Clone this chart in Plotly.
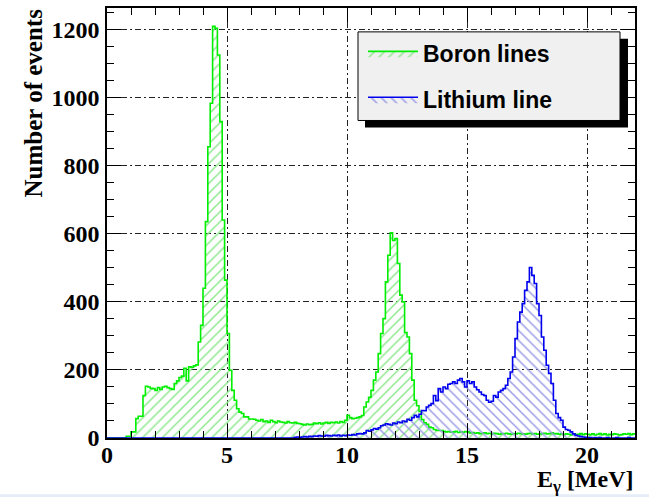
import numpy as np
import plotly.graph_objects as go

# ---- data: 0.1 MeV bins from 0 to 22 MeV ----
bin_width = 0.1
e_min, e_max = 0.0, 22.0

boron_counts = [
    0, 0, 0, 0, 0, 0, 0, 0, 5, 5,
    18, 18, 57, 64, 64, 125, 152, 150, 146, 145,
    140, 148, 143, 150, 152, 148, 145, 143, 160, 168,
    178, 182, 205, 168, 209, 208, 212, 215, 282, 331,
    440, 636, 856, 984, 1210, 1204, 1126, 930, 641, 464,
    307, 199, 140, 111, 86, 76, 72, 62, 62, 56,
    56, 55, 52, 50, 54, 48, 50, 46, 52, 48,
    45, 50, 47, 46, 44, 48, 45, 44, 46, 43,
    42, 40, 38, 41, 39, 40, 44, 42, 45, 41,
    44, 46, 43, 46, 45, 47, 44, 48, 46, 52,
    67, 60, 57, 58, 60, 62, 66, 91, 106, 120,
    140, 170, 194, 248, 307, 351, 459, 537, 603, 581,
    586, 513, 420, 400, 310, 297, 248, 170, 111, 95,
    78, 54, 45, 40, 32, 30, 25, 23, 22, 22,
    20, 18, 19, 17, 18, 20, 16, 18, 17, 19,
    18, 15, 16, 14, 15, 13, 14, 15, 13, 14,
    12, 14, 13, 11, 13, 12, 14, 12, 11, 13,
    12, 14, 13, 12, 11, 13, 14, 12, 13, 11,
    12, 13, 14, 12, 13, 15, 12, 13, 11, 12,
    10, 12, 11, 9, 12, 10, 11, 13, 10, 12,
    11, 10, 12, 9, 11, 13, 10, 12, 9, 11,
    10, 12, 11, 9, 10, 12, 11, 13, 10, 12,
]

lithium_counts = [
    0, 0, 0, 0, 0, 0, 0, 0, 0, 0,
    0, 0, 0, 0, 0, 0, 0, 0, 0, 0,
    0, 0, 0, 0, 0, 0, 0, 0, 0, 0,
    0, 0, 0, 0, 0, 0, 0, 0, 0, 0,
    0, 0, 0, 0, 0, 0, 0, 0, 0, 0,
    0, 0, 0, 0, 0, 0, 0, 0, 0, 0,
    0, 0, 0, 0, 0, 0, 0, 0, 0, 0,
    0, 0, 0, 0, 0, 0, 0, 0, 2, 3,
    2, 3, 4, 3, 5, 4, 6, 5, 7, 6,
    5, 8, 7, 6, 8, 7, 9, 6, 8, 7,
    9, 8, 10, 9, 12, 13, 12, 15, 22, 20,
    24, 28, 26, 30, 36, 38, 42, 40, 38, 44,
    42, 47, 45, 50, 48, 55, 52, 60, 67, 62,
    70, 81, 80, 91, 96, 101, 125, 110, 145, 135,
    150, 145, 158, 160, 165, 160, 170, 175, 165, 150,
    168, 160, 165, 150, 142, 135, 128, 125, 111, 105,
    108, 125, 120, 135, 140, 145, 155, 175, 194, 238,
    292, 341, 370, 395, 434, 459, 501, 478, 454, 395,
    360, 297, 258, 214, 190, 160, 111, 72, 60, 52,
    32, 25, 23, 18, 12, 8, 6, 4, 3, 2,
    1, 1, 0, 1, 0, 1, 0, 0, 1, 0,
    0, 0, 1, 0, 0, 0, 0, 1, 0, 0,
]

x_ticks = [0, 5, 10, 15, 20]
y_ticks = [0, 200, 400, 600, 800, 1000, 1200]
series_names = ["Boron lines", "Lithium line"]

# ---- build figure ----
edges = np.round(np.arange(len(boron_counts) + 1) * bin_width + e_min, 3)

def step_y(counts):
    return list(counts) + [counts[-1]]

fig = go.Figure()
fig.add_trace(go.Scatter(
    x=edges, y=step_y(boron_counts), mode="lines", line_shape="hv",
    line=dict(color="#00ee00", width=1.6),
    fill="tozeroy", fillcolor="rgba(0,0,0,0)",
    fillpattern=dict(shape="/", fgcolor="#8fe88f", bgcolor="rgba(0,0,0,0)",
                     size=7, solidity=0.22, fillmode="replace"),
    name=series_names[0], legendgroup="b",
))
fig.add_trace(go.Scatter(
    x=edges, y=step_y(lithium_counts), mode="lines", line_shape="hv",
    line=dict(color="#0000ee", width=1.6),
    fill="tozeroy", fillcolor="rgba(0,0,0,0)",
    fillpattern=dict(shape="\\", fgcolor="#9c9ce6", bgcolor="rgba(0,0,0,0)",
                     size=7, solidity=0.22, fillmode="replace"),
    name=series_names[1], legendgroup="l",
))

W, H = 649, 497
L, R, T, B = 107, 14, 6, 59
pw, ph = W - L - R, H - T - B

def px(xp):
    return (xp - L) / pw

def py(yp):
    return (H - B - yp) / ph

tick_font = dict(family="Liberation Serif", size=24, color="black", weight="bold")
grid_common = dict(showgrid=True, gridcolor="#222", gridwidth=1, griddash="6px,3px,2px,3px")

fig.update_xaxes(
    range=[e_min, e_max], tickvals=x_ticks, ticktext=[str(v) for v in x_ticks],
    ticks="inside", ticklen=14, tickcolor="black", tickwidth=1,
    minor=dict(ticks="inside", ticklen=7, dtick=1, tick0=0, tickcolor="black", showgrid=False),
    showline=True, linecolor="black", linewidth=1.5, mirror="ticks",
    zeroline=False, tickfont=tick_font, ticklabelstandoff=-6, **grid_common,
)
fig.update_yaxes(
    range=[0, 1264], tickvals=y_ticks, ticktext=[str(v) for v in y_ticks],
    ticks="inside", ticklen=14, tickcolor="black", tickwidth=1,
    minor=dict(ticks="inside", ticklen=7, dtick=50, tick0=0, tickcolor="black", showgrid=False),
    showline=True, linecolor="black", linewidth=1.5, mirror="ticks",
    zeroline=False, tickfont=tick_font, ticklabelstandoff=1, **grid_common,
)

shapes = [
    # legend shadow and box
    dict(type="rect", xref="paper", yref="paper", layer="above",
         x0=px(365), x1=px(628), y0=py(126), y1=py(37),
         fillcolor="black", line=dict(width=0)),
    dict(type="rect", xref="paper", yref="paper", layer="above",
         x0=px(358), x1=px(620), y0=py(119), y1=py(30),
         fillcolor="#f0f0f0", line=dict(color="black", width=1)),
    # light strip at bottom of page
    dict(type="rect", xref="paper", yref="paper", layer="below",
         x0=px(-5), x1=px(660), y0=py(505), y1=py(494.5),
         fillcolor="#e4edf8", line=dict(width=0)),
]

annotations = [
    dict(text="Number of events", textangle=-90, xref="paper", yref="paper",
         x=px(34), y=py(5), xanchor="center", yanchor="top", showarrow=False,
         font=dict(family="Liberation Serif", size=25, color="black", weight="bold")),
    dict(text="E<sub>γ</sub> [MeV]", xref="paper", yref="paper",
         x=px(636), y=py(481), xanchor="right", yanchor="middle", showarrow=False,
         font=dict(family="Liberation Serif", size=24, color="black", weight="bold")),
]

fig.update_layout(
    width=W, height=H,
    margin=dict(l=L, r=R, t=T, b=B),
    paper_bgcolor="white", plot_bgcolor="white",
    shapes=shapes, annotations=annotations,
    showlegend=True,
    legend=dict(x=px(363), y=py(30), xanchor="left", yanchor="top",
                bgcolor="rgba(0,0,0,0)", borderwidth=0,
                traceorder="grouped", tracegroupgap=13, itemwidth=50,
                font=dict(family="Liberation Sans", size=23, color="black", weight="bold")),
)

fig.write_html("out.html")
